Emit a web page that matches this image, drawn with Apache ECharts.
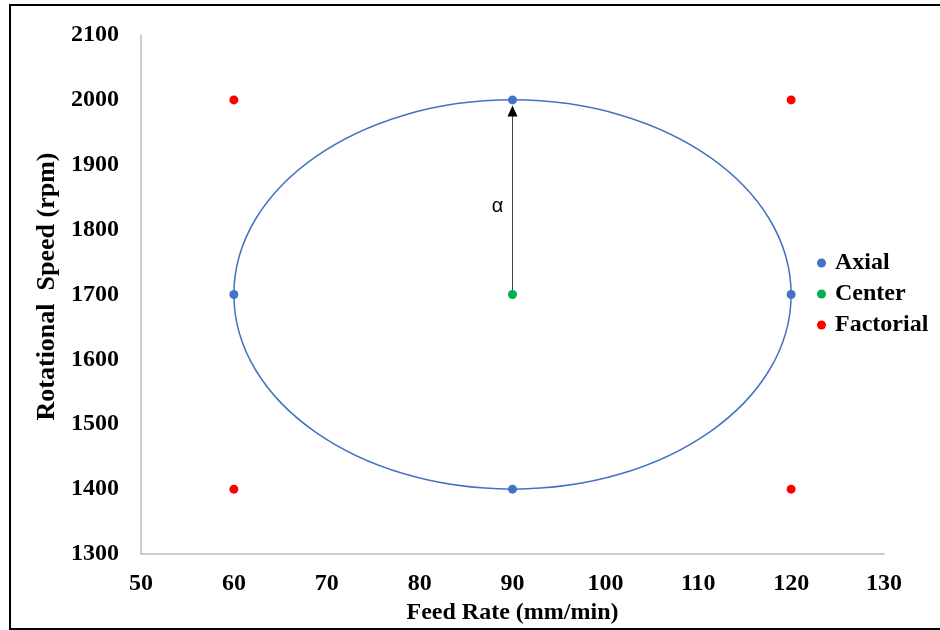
<!DOCTYPE html>
<html>
<head>
<meta charset="utf-8">
<title>Feed Rate vs Rotational Speed</title>
<script src="https://cdn.jsdelivr.net/npm/echarts@6/dist/echarts.min.js"></script>
<style>
  html, body { margin: 0; padding: 0; background: #fff; }
  #chart { width: 940px; height: 630px; }
</style>
</head>
<body>
<div id="chart"></div>
<script>
// Design points of the central composite design
const axialPoints = [[60, 1700], [90, 2000], [120, 1700], [90, 1400]];
const centerPoints = [[90, 1700]];
const factorialPoints = [[60, 2000], [120, 2000], [60, 1400], [120, 1400]];

// Ellipse through the axial points: [centerX, centerY, radiusX, radiusY]
const ellipseSpec = [[90, 1700, 30, 300]];
// Arrow marking alpha: [fromX, fromY, toX, toY, labelY]
const alphaArrow = [[90, 1700, 90, 2000, 1835]];

const xTicks = { min: 50, max: 130, interval: 10 };
const yTicks = { min: 1300, max: 2100, interval: 100 };

const serif = '"Liberation Serif", "Times New Roman", serif';
const boldText = { fontFamily: serif, fontWeight: 'bold', fontSize: 24, color: '#000' };

const chart = echarts.init(document.getElementById('chart'), null, { renderer: 'canvas' });

chart.setOption({
  animation: false,
  backgroundColor: '#fff',
  grid: { left: 141, right: 56, top: 35, bottom: 76, containLabel: false },
  xAxis: {
    type: 'value',
    min: xTicks.min, max: xTicks.max, interval: xTicks.interval,
    name: 'Feed Rate (mm/min)',
    nameLocation: 'middle',
    nameGap: 47,
    nameTextStyle: boldText,
    axisLine: { show: true, lineStyle: { color: '#BFBFBF', width: 1.5 } },
    axisTick: { show: false },
    splitLine: { show: false },
    axisLabel: Object.assign({ margin: 18, formatter: v => String(v) }, boldText)
  },
  yAxis: {
    type: 'value',
    min: yTicks.min, max: yTicks.max, interval: yTicks.interval,
    name: 'Rotational  Speed (rpm)',
    nameLocation: 'middle',
    nameGap: 80,
    nameTextStyle: Object.assign({}, boldText, { fontSize: 26, padding: [0, 0, 0, 16] }),
    axisLine: { show: true, lineStyle: { color: '#BFBFBF', width: 1.5 } },
    axisTick: { show: false },
    splitLine: { show: false },
    axisLabel: Object.assign({ margin: 22, formatter: v => String(v) }, boldText)
  },
  legend: {
    orient: 'vertical',
    left: 817,
    top: 251,
    padding: 0,
    itemGap: 7,
    itemWidth: 9,
    itemHeight: 9,
    icon: 'circle',
    textStyle: Object.assign({ padding: [0, 0, 0, 4] }, boldText),
    data: ['Axial', 'Center', 'Factorial']
  },
  graphic: [{
    type: 'polyline',
    silent: true,
    shape: { points: [[940, 5], [10, 5], [10, 629], [940, 629]] },
    style: { stroke: '#000', lineWidth: 2, fill: null }
  }],
  series: [
    {
      name: 'ellipse',
      type: 'custom',
      z: 1,
      silent: true,
      data: ellipseSpec,
      renderItem: function (params, api) {
        const c = api.coord([api.value(0), api.value(1)]);
        const right = api.coord([api.value(0) + api.value(2), api.value(1)]);
        const top = api.coord([api.value(0), api.value(1) + api.value(3)]);
        const rx = right[0] - c[0];
        const ry = c[1] - top[1];
        const k = 0.5522847498;
        const d = [
          'M', c[0] + rx, c[1],
          'C', c[0] + rx, c[1] - ry * k, c[0] + rx * k, c[1] - ry, c[0], c[1] - ry,
          'C', c[0] - rx * k, c[1] - ry, c[0] - rx, c[1] - ry * k, c[0] - rx, c[1],
          'C', c[0] - rx, c[1] + ry * k, c[0] - rx * k, c[1] + ry, c[0], c[1] + ry,
          'C', c[0] + rx * k, c[1] + ry, c[0] + rx, c[1] + ry * k, c[0] + rx, c[1],
          'Z'
        ].join(' ');
        return {
          type: 'path',
          shape: { pathData: d },
          style: { fill: null, stroke: '#4472C4', lineWidth: 1.5 }
        };
      }
    },
    {
      name: 'alpha',
      type: 'custom',
      z: 2,
      silent: true,
      data: alphaArrow,
      renderItem: function (params, api) {
        const from = api.coord([api.value(0), api.value(1)]);
        const to = api.coord([api.value(2), api.value(3)]);
        const lab = api.coord([api.value(0), api.value(4)]);
        const tipY = to[1] + 5.5;
        const headLen = 11, headHalf = 5;
        return {
          type: 'group',
          children: [
            {
              type: 'line',
              shape: { x1: from[0], y1: from[1], x2: to[0], y2: tipY + headLen - 1 },
              style: { stroke: '#404040', lineWidth: 1 }
            },
            {
              type: 'polygon',
              shape: { points: [[to[0], tipY], [to[0] - headHalf, tipY + headLen], [to[0] + headHalf, tipY + headLen]] },
              style: { fill: '#000' }
            },
            {
              type: 'text',
              x: lab[0] - 15,
              y: lab[1],
              style: {
                text: 'α',
                fontFamily: '"Liberation Sans", Arial, sans-serif',
                fontSize: 20,
                fill: '#000',
                align: 'center',
                verticalAlign: 'middle'
              }
            }
          ]
        };
      }
    },
    {
      name: 'Axial',
      type: 'scatter',
      z: 3,
      symbol: 'circle',
      symbolSize: 9,
      itemStyle: { color: '#4472C4', opacity: 1 },
      data: axialPoints
    },
    {
      name: 'Center',
      type: 'scatter',
      z: 3,
      symbol: 'circle',
      symbolSize: 9,
      itemStyle: { color: '#00B050', opacity: 1 },
      data: centerPoints
    },
    {
      name: 'Factorial',
      type: 'scatter',
      z: 3,
      symbol: 'circle',
      symbolSize: 9,
      itemStyle: { color: '#FF0000', opacity: 1 },
      data: factorialPoints
    }
  ]
});
</script>
</body>
</html>
